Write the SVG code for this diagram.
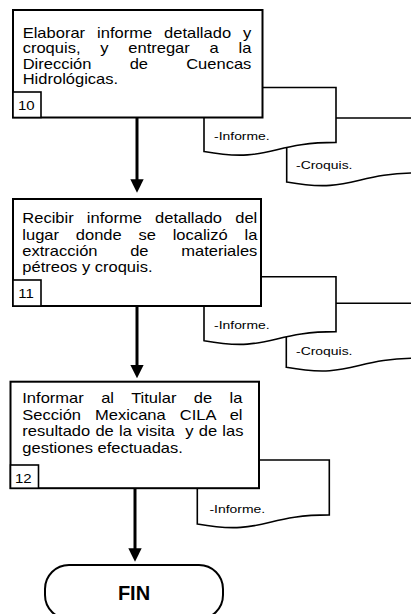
<svg xmlns="http://www.w3.org/2000/svg" width="411" height="614" viewBox="0 0 411 614">
<style>
.bx{fill:#fff;stroke:#000;stroke-width:2}
.nb{fill:#fff;stroke:#000;stroke-width:1.6}
.doc{fill:#fff;stroke:#000;stroke-width:1.6}
.ar{stroke:#000;stroke-width:3;fill:none}
.t{font-family:"Liberation Sans",Arial,sans-serif;font-size:14px;fill:#000}
.d{font-family:"Liberation Sans",Arial,sans-serif;font-size:11.8px;fill:#000}
.n{font-family:"Liberation Sans",Arial,sans-serif;font-size:12.7px;fill:#000}
.fin{font-family:"Liberation Sans",Arial,sans-serif;font-size:20px;font-weight:bold;fill:#000}
</style>
<defs>
<marker id="ah" viewBox="0 0 13.4 13.4" refX="6.7" refY="6.7" markerWidth="13.4" markerHeight="13.4" markerUnits="userSpaceOnUse" orient="auto">
<path d="M0,0 L13.4,6.7 L0,13.4 Z" fill="#000"/>
</marker>
</defs>
<rect width="411" height="614" fill="#fff"/>

<g id="connectors">
<path class="ar" d="M137,118 V186" marker-end="url(#ah)"/>
<path class="ar" d="M137,306 V371.6" marker-end="url(#ah)"/>
<path class="ar" d="M135,488 V555" marker-end="url(#ah)"/>
</g>

<g id="doc-10-croquis">
<path class="doc" d="M286.7,118 H418.7 V172.9 C352.7,172.9 352.7,193.9 286.7,182 Z"/>
</g>
<g id="doc-10-informe">
<path class="doc" d="M204,87.5 H336 V142.4 C270,142.4 270,163.4 204,151.5 Z"/>
</g>
<g id="node-10">
<rect class="bx" x="13" y="10" width="249.5" height="107.5"/>
<rect class="nb" x="13" y="92" width="28" height="25.5"/>
</g>

<g id="doc-11-croquis">
<path class="doc" d="M286.3,303.3 H418.3 V358.2 C352.3,358.2 352.3,379.2 286.3,367.3 Z"/>
</g>
<g id="doc-11-informe">
<path class="doc" d="M204,276.7 H336 V331.6 C270,331.6 270,352.6 204,340.7 Z"/>
</g>
<g id="node-11">
<rect class="bx" x="13" y="199" width="248" height="107"/>
<rect class="nb" x="13" y="280" width="28" height="26"/>
</g>

<g id="doc-12-informe">
<path class="doc" d="M197.3,460 H329.3 V514.9 C263.3,514.9 263.3,535.9 197.3,524 Z"/>
</g>
<g id="node-12">
<rect class="bx" x="10.5" y="381.7" width="248.5" height="106.5"/>
<rect class="nb" x="10.5" y="465" width="28" height="23.2"/>
</g>

<g id="node-fin">
<rect class="bx" x="45" y="565" width="178" height="54" rx="24" ry="24"/>
<text class="fin" x="134" y="599.5" text-anchor="middle">FIN</text>
</g>

<g id="labels" transform="scale(1.18,1)">
<text class="t" x="19.24" y="38" word-spacing="6.27">Elaborar informe detallado y</text>
<text class="t" x="19.24" y="53.4" word-spacing="12.88">croquis, y entregar a la</text>
<text class="t" x="19.24" y="68.8" word-spacing="28.47">Dirección de Cuencas</text>
<text class="t" x="19.24" y="84.2">Hidrológicas.</text>
<text class="n" x="15.25" y="110">10</text>
<text class="d" x="181.4" y="140.5">-Informe.</text>
<text class="d" x="250.9" y="169.5">-Croquis.</text>

<text class="t" x="18.9" y="223.5" word-spacing="7.29">Recibir informe detallado del</text>
<text class="t" x="18.9" y="239.8" word-spacing="10.34">lugar donde se localizó la</text>
<text class="t" x="18.9" y="256.1" word-spacing="23.81">extracción de materiales</text>
<text class="t" x="18.9" y="272.4">pétreos y croquis.</text>
<text class="n" x="15.5" y="298">11</text>
<text class="d" x="181.4" y="329">-Informe.</text>
<text class="d" x="250.9" y="355.5">-Croquis.</text>

<text class="t" x="18.9" y="403.3" word-spacing="10.89">Informar al Titular de la</text>
<text class="t" x="18.9" y="419.8" word-spacing="8.05">Sección Mexicana CILA el</text>
<text class="t" x="18.9" y="436.3" word-spacing="0.56" xml:space="preserve">resultado de la visita  y de las</text>
<text class="t" x="18.9" y="452.8">gestiones efectuadas.</text>
<text class="n" x="12.7" y="483.5">12</text>
<text class="d" x="177.5" y="513.5">-Informe.</text>
</g>
</svg>
